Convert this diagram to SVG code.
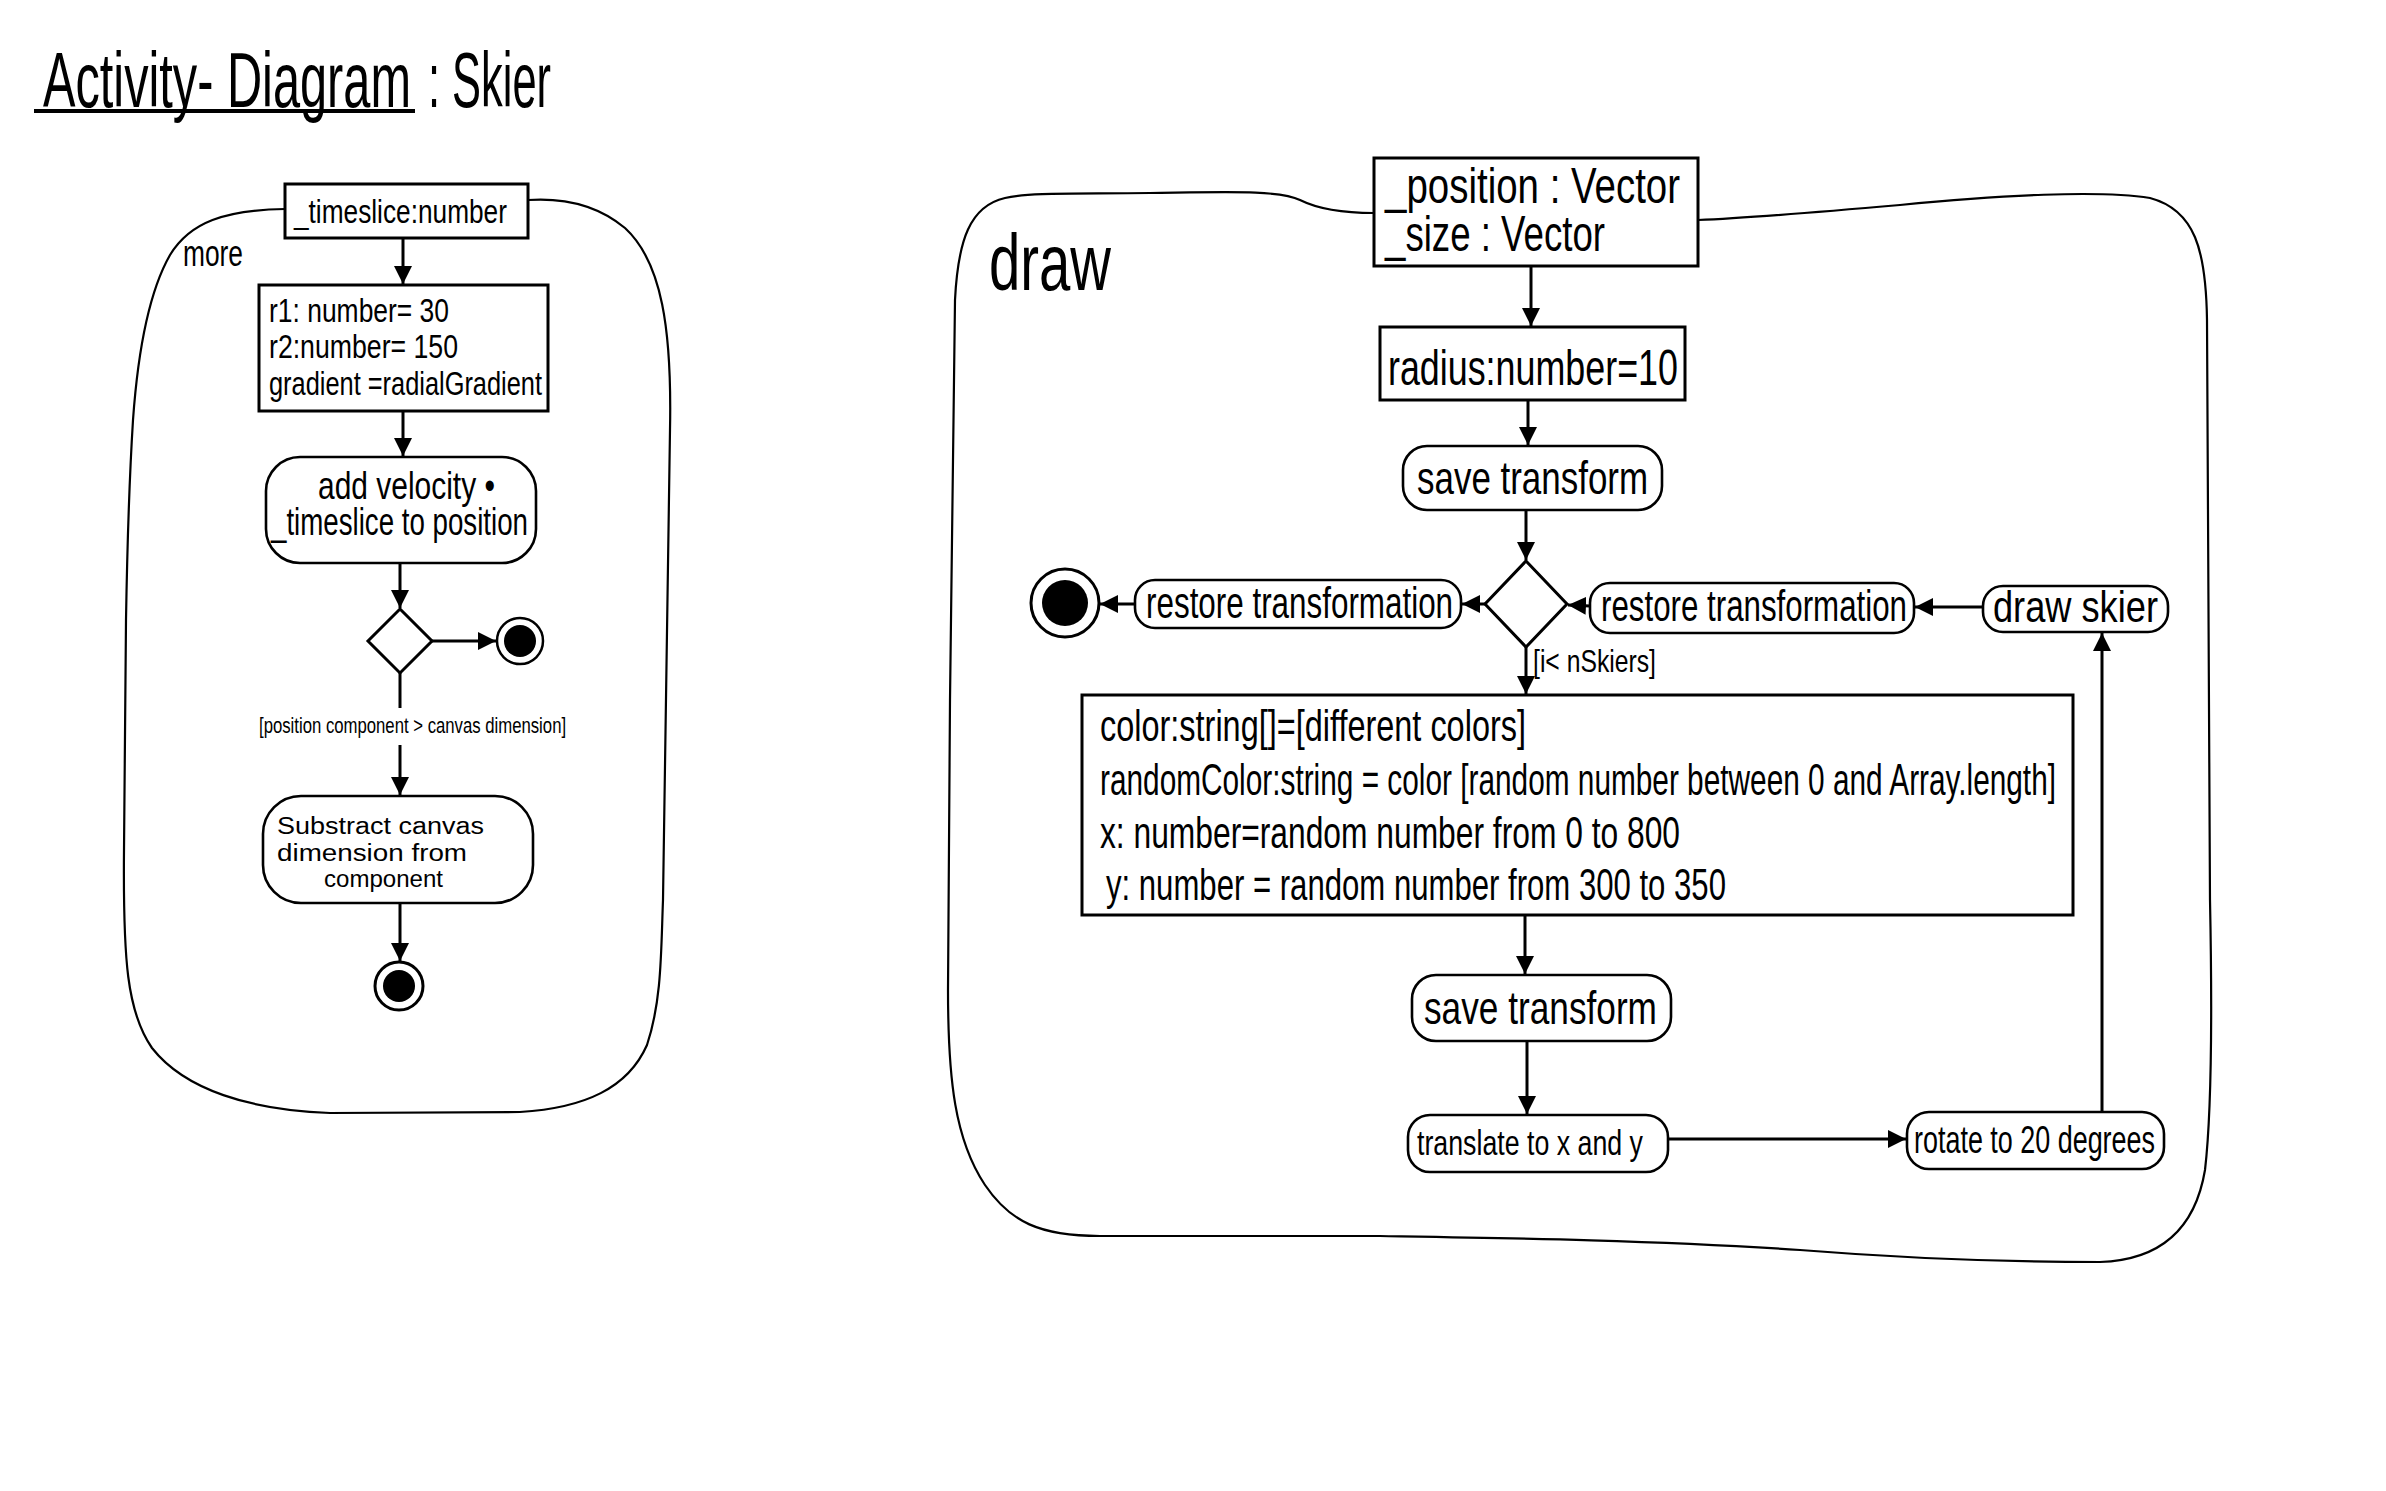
<svg xmlns="http://www.w3.org/2000/svg" width="2386" height="1491" viewBox="0 0 2386 1491">
<defs>
<style>
text{font-family:"Liberation Sans",Arimo,sans-serif;fill:#000}
.frame{fill:none;stroke:#000;stroke-width:2.2;stroke-linejoin:round}
.box{fill:#fff;stroke:#000;stroke-width:3}
.act{fill:#fff;stroke:#000;stroke-width:2.6}
.edge{fill:none;stroke:#000;stroke-width:3;marker-end:url(#ah)}
.line{fill:none;stroke:#000;stroke-width:3}
</style>
<marker id="ah" viewBox="0 0 10 10" refX="10" refY="5" markerWidth="6" markerHeight="6" orient="auto" markerUnits="strokeWidth">
<path d="M0,0 L10,5 L0,10 Z" fill="#000"/>
</marker>
</defs>
<rect width="2386" height="1491" fill="#fff"/>

<g id="title">
<text x="43" y="107" font-size="78" transform="matrix(0.625 0 0 1 16.1 0)" textLength="588.8" lengthAdjust="spacingAndGlyphs">Activity- Diagram</text>
<line x1="34" y1="111" x2="415" y2="111" stroke="#000" stroke-width="4"/>
<text x="428" y="107" font-size="78" transform="matrix(0.557 0 0 1 189.6 0)" textLength="220.8" lengthAdjust="spacingAndGlyphs">: Skier</text>
</g>

<g id="frame-more">
<path class="frame" d="M285 209 C225 210 190 222 170 255 C150 290 138 350 133 420 C128 500 127 560 126 620 L124 850 C123 960 127 1012 152 1048 C185 1090 250 1110 330 1113 L520 1112 C585 1108 628 1088 647 1045 C662 1000 661 950 663 900 L670 430 C672 330 662 262 625 228 C595 203 558 198 528 200"/>
<text x="183" y="266" font-size="36" transform="matrix(0.73 0 0 1 49.4 0)" textLength="82.2" lengthAdjust="spacingAndGlyphs">more</text>
</g>

<g id="frame-draw">
<path class="frame" d="M1374 213 C1345 213 1320 210 1300 200 C1280 190 1230 192 1150 193 C1080 194 1030 192 1005 198 C970 206 958 240 955 300 L950 700 L948 990 C948 1080 955 1140 985 1185 C1010 1222 1040 1236 1100 1236 L1380 1236 C1500 1238 1650 1240 1800 1250 C1900 1258 2000 1262 2100 1262 C2160 1260 2195 1230 2205 1170 C2212 1110 2212 1000 2210 900 L2207 320 C2206 250 2195 210 2150 198 C2100 190 2000 195 1900 205 C1820 212 1750 218 1698 220"/>
<text x="989" y="290" font-size="80" transform="matrix(0.705 0 0 1 291.8 0)" textLength="173" lengthAdjust="spacingAndGlyphs">draw</text>
</g>

<g id="connectors">
<path class="edge" d="M403 238 L403 284"/>
<path class="edge" d="M403 411 L403 456"/>
<path class="edge" d="M400 563 L400 608"/>
<path class="edge" d="M432 641 L496 641"/>
<path class="line" d="M400 673 L400 708"/>
<path class="edge" d="M400 745 L400 795"/>
<path class="edge" d="M400 903 L400 961"/>
<path class="edge" d="M1531 266 L1531 326"/>
<path class="edge" d="M1528 400 L1528 445"/>
<path class="edge" d="M1526 510 L1526 560"/>
<path class="edge" d="M1485 604 L1462 604"/>
<path class="edge" d="M1135 604 L1100 604"/>
<path class="edge" d="M1590 606 L1568 605"/>
<path class="edge" d="M1983 607 L1915 607"/>
<path class="edge" d="M1526 647 L1526 694"/>
<path class="edge" d="M1525 915 L1525 974"/>
<path class="edge" d="M1527 1041 L1527 1114"/>
<path class="edge" d="M1668 1139 L1906 1139"/>
<path class="edge" d="M2102 1112 L2102 633"/>
</g>

<g id="n-timeslice">
<rect class="box" x="285" y="184" width="243" height="54"/>
<text x="294" y="223" font-size="34" transform="matrix(0.77 0 0 1 67.6 0)" textLength="276.6" lengthAdjust="spacingAndGlyphs">_timeslice:number</text>
</g>

<g id="n-vars">
<rect class="box" x="259" y="285" width="289" height="126"/>
<text x="269" y="322" font-size="34" transform="matrix(0.78 0 0 1 59.2 0)" textLength="230.8" lengthAdjust="spacingAndGlyphs">r1: number= 30</text>
<text x="269" y="358" font-size="34" transform="matrix(0.78 0 0 1 59.2 0)" textLength="242.3" lengthAdjust="spacingAndGlyphs">r2:number= 150</text>
<text x="269" y="395" font-size="34" transform="matrix(0.746 0 0 1 68.3 0)" textLength="366" lengthAdjust="spacingAndGlyphs">gradient =radialGradient</text>
</g>

<g id="n-addvelocity">
<rect class="act" x="266" y="457" width="270" height="106" rx="34"/>
<text x="318" y="499" font-size="38" transform="matrix(0.79 0 0 1 66.8 0)" textLength="224" lengthAdjust="spacingAndGlyphs">add velocity •</text>
<text x="271" y="535" font-size="38" transform="matrix(0.73 0 0 1 73.2 0)" textLength="352" lengthAdjust="spacingAndGlyphs">_timeslice to position</text>
</g>

<g id="n-decision-left">
<polygon points="400,609 432,641 400,673 368,641" fill="#fff" stroke="#000" stroke-width="3"/>
</g>

<g id="n-end-left-1">
<circle cx="520" cy="641" r="23" fill="#fff" stroke="#000" stroke-width="2.5"/>
<circle cx="520" cy="641" r="16" fill="#000"/>
</g>

<g id="guard-left">
<text x="259" y="733" font-size="22" transform="matrix(0.76 0 0 1 62.2 0)" textLength="404" lengthAdjust="spacingAndGlyphs">[position component &gt; canvas dimension]</text>
</g>

<g id="n-substract">
<rect class="act" x="263" y="796" width="270" height="107" rx="38"/>
<text x="277" y="834" font-size="23" textLength="207" lengthAdjust="spacingAndGlyphs">Substract canvas</text>
<text x="277" y="861" font-size="23" textLength="190" lengthAdjust="spacingAndGlyphs">dimension from</text>
<text x="324" y="887" font-size="23" textLength="119" lengthAdjust="spacingAndGlyphs">component</text>
</g>

<g id="n-end-left-2">
<circle cx="399" cy="986" r="24" fill="#fff" stroke="#000" stroke-width="3"/>
<circle cx="399" cy="986" r="16" fill="#000"/>
</g>

<g id="n-position">
<rect class="box" x="1374" y="158" width="324" height="108"/>
<text x="1385" y="203" font-size="50" transform="matrix(0.764 0 0 1 326.9 0)" textLength="386.1" lengthAdjust="spacingAndGlyphs">_position : Vector</text>
<text x="1385" y="251" font-size="50" transform="matrix(0.726 0 0 1 379.5 0)" textLength="303" lengthAdjust="spacingAndGlyphs">_size : Vector</text>
</g>

<g id="n-radius">
<rect class="box" x="1380" y="327" width="305" height="73"/>
<text x="1388" y="385" font-size="50" transform="matrix(0.72 0 0 1 388.6 0)" textLength="402.8" lengthAdjust="spacingAndGlyphs">radius:number=10</text>
</g>

<g id="n-save1">
<rect class="act" x="1403" y="446" width="259" height="64" rx="24"/>
<text x="1417" y="494" font-size="46" transform="matrix(0.76 0 0 1 340.1 0)" textLength="304" lengthAdjust="spacingAndGlyphs">save transform</text>
</g>

<g id="n-decision-right">
<polygon points="1526,561 1567,604 1526,647 1485,604" fill="#fff" stroke="#000" stroke-width="3"/>
</g>

<g id="n-restore-left">
<rect class="act" x="1135" y="580" width="326" height="48" rx="20"/>
<text x="1146" y="618" font-size="44" transform="matrix(0.714 0 0 1 327.8 0)" textLength="430" lengthAdjust="spacingAndGlyphs">restore transformation</text>
</g>

<g id="n-end-right">
<circle cx="1065" cy="603" r="34" fill="#fff" stroke="#000" stroke-width="3"/>
<circle cx="1065" cy="603" r="23" fill="#000"/>
</g>

<g id="n-restore-right">
<rect class="act" x="1590" y="583" width="324" height="50" rx="20"/>
<text x="1601" y="621" font-size="44" transform="matrix(0.712 0 0 1 461.1 0)" textLength="429.8" lengthAdjust="spacingAndGlyphs">restore transformation</text>
</g>

<g id="n-drawskier">
<rect class="act" x="1983" y="586" width="185" height="46" rx="20"/>
<text x="1993" y="622" font-size="44" transform="matrix(0.82 0 0 1 358.7 0)" textLength="201.2" lengthAdjust="spacingAndGlyphs">draw skier</text>
</g>

<g id="guard-right">
<text x="1533" y="672" font-size="32" transform="matrix(0.77 0 0 1 352.6 0)" textLength="159.7" lengthAdjust="spacingAndGlyphs">[i&lt; nSkiers]</text>
</g>

<g id="n-colors">
<rect class="box" x="1082" y="695" width="991" height="220"/>
<text x="1100" y="741" font-size="44" transform="matrix(0.737 0 0 1 289.3 0)" textLength="578" lengthAdjust="spacingAndGlyphs">color:string[]=[different colors]</text>
<text x="1100" y="795" font-size="44" transform="matrix(0.675 0 0 1 357.5 0)" textLength="1416.3" lengthAdjust="spacingAndGlyphs">randomColor:string = color [random number between 0 and Array.length]</text>
<text x="1100" y="848" font-size="44" transform="matrix(0.72 0 0 1 308 0)" textLength="805.6" lengthAdjust="spacingAndGlyphs">x: number=random number from 0 to 800</text>
<text x="1106" y="900" font-size="44" transform="matrix(0.714 0 0 1 316.3 0)" textLength="868.3" lengthAdjust="spacingAndGlyphs">y: number = random number from 300 to 350</text>
</g>

<g id="n-save2">
<rect class="act" x="1412" y="975" width="259" height="66" rx="24"/>
<text x="1424" y="1024" font-size="46" transform="matrix(0.77 0 0 1 327.5 0)" textLength="302.6" lengthAdjust="spacingAndGlyphs">save transform</text>
</g>

<g id="n-translate">
<rect class="act" x="1408" y="1115" width="260" height="57" rx="22"/>
<text x="1417" y="1155" font-size="36" transform="matrix(0.74 0 0 1 368.4 0)" textLength="305.4" lengthAdjust="spacingAndGlyphs">translate to x and y</text>
</g>

<g id="n-rotate">
<rect class="act" x="1907" y="1112" width="257" height="57" rx="22"/>
<text x="1914" y="1153" font-size="38" transform="matrix(0.71 0 0 1 555.1 0)" textLength="339.4" lengthAdjust="spacingAndGlyphs">rotate to 20 degrees</text>
</g>
</svg>
